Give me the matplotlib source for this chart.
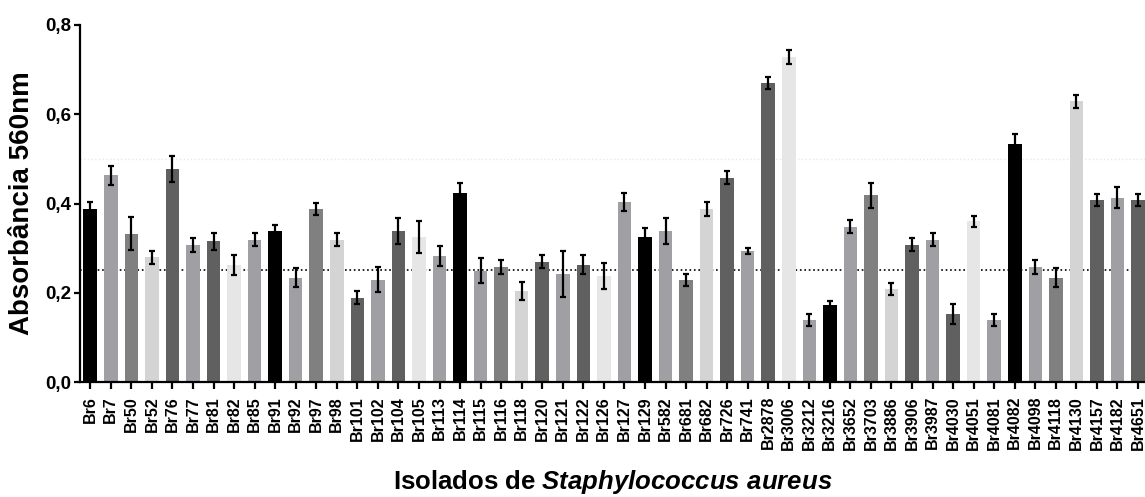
import numpy as np
import matplotlib
matplotlib.use("Agg")
import matplotlib.pyplot as plt

# Isolates and absorbance readings (mean, error)
isolates = ["Br6", "Br7", "Br50", "Br52", "Br76", "Br77", "Br81", "Br82", "Br85",
            "Br91", "Br92", "Br97", "Br98", "Br101", "Br102", "Br104", "Br105", "Br113",
            "Br114", "Br115", "Br116", "Br118", "Br120", "Br121", "Br122", "Br126", "Br127",
            "Br129", "Br582", "Br681", "Br682", "Br726", "Br741", "Br2878", "Br3006", "Br3212",
            "Br3216", "Br3652", "Br3703", "Br3886", "Br3906", "Br3987", "Br4030", "Br4051", "Br4081",
            "Br4082", "Br4098", "Br4118", "Br4130", "Br4157", "Br4182", "Br4651"]

absorbance = [0.388, 0.463, 0.332, 0.279, 0.478, 0.307, 0.315, 0.262, 0.319,
              0.339, 0.234, 0.388, 0.319, 0.189, 0.229, 0.339, 0.324, 0.283,
              0.424, 0.249, 0.258, 0.204, 0.270, 0.242, 0.263, 0.238, 0.404,
              0.324, 0.339, 0.229, 0.388, 0.458, 0.294, 0.670, 0.728, 0.139,
              0.173, 0.348, 0.418, 0.209, 0.308, 0.319, 0.153, 0.360, 0.139,
              0.534, 0.258, 0.234, 0.629, 0.408, 0.413, 0.408]

error = [0.015, 0.022, 0.037, 0.014, 0.029, 0.016, 0.020, 0.022, 0.014,
         0.013, 0.021, 0.014, 0.014, 0.014, 0.028, 0.029, 0.036, 0.022,
         0.021, 0.028, 0.016, 0.020, 0.014, 0.052, 0.022, 0.029, 0.020,
         0.022, 0.029, 0.013, 0.015, 0.015, 0.007, 0.013, 0.016, 0.014,
         0.008, 0.015, 0.029, 0.013, 0.015, 0.014, 0.022, 0.013, 0.014,
         0.021, 0.016, 0.021, 0.014, 0.014, 0.023, 0.014]

cutoff = 0.25

plt.rcParams['font.family'] = ['Liberation Sans', 'DejaVu Sans']
plt.rcParams['font.weight'] = 'bold'
plt.rcParams['mathtext.fontset'] = 'custom'
plt.rcParams['mathtext.bfit'] = 'Liberation Sans:bold:italic'
plt.rcParams['mathtext.it'] = 'Liberation Sans:bold:italic'

palette = ['#000000', '#a0a0a4', '#808080', '#d4d4d4', '#606060',
           '#a0a0a4', '#606060', '#e6e6e6', '#a0a0a4']
colors = [palette[i % len(palette)] for i in range(len(isolates))]

fig = plt.figure(figsize=(11.45, 4.97), dpi=100)
ax = fig.add_axes([80 / 1145, 1 - 382 / 497, 1065 / 1145, 357 / 497])

x = np.arange(len(isolates))
ax.axhline(0.5, color='#e8e8e8', linestyle=':', linewidth=1.0, zorder=0)
ax.axhline(cutoff, color='black', linestyle=':', linewidth=1.2, zorder=0)
ax.bar(x, absorbance, width=0.66, color=colors, zorder=2)
ax.errorbar(x, absorbance, yerr=error, fmt='none', ecolor='black',
            elinewidth=1.6, capsize=2.5, capthick=1.6, zorder=3)

ax.set_xlim(-0.5, len(isolates) - 0.66)
ax.set_ylim(0, 0.8)
ax.set_yticks([0, 0.2, 0.4, 0.6, 0.8])
ax.set_yticklabels(['0,0', '0,2', '0,4', '0,6', '0,8'], fontsize=13.5, fontweight='bold')
ax.set_xticks(x)
ax.set_xticklabels(isolates, rotation=90, fontsize=11.5, fontweight='bold')

for side in ['top', 'right']:
    ax.spines[side].set_visible(False)
for side in ['left', 'bottom']:
    ax.spines[side].set_linewidth(1.6)
ax.tick_params(axis='both', width=1.6, direction='out')
ax.tick_params(axis='x', length=5, pad=5)
ax.tick_params(axis='y', length=4.5, pad=2)

ax.set_ylabel('Absorbância 560nm', fontsize=20, fontweight='bold', labelpad=7)
ax.set_xlabel(r'Isolados de $\mathit{Staphylococcus\ aureus}$', fontsize=18.5,
              fontweight='bold', labelpad=13)

fig.savefig('out.png', dpi=100)
